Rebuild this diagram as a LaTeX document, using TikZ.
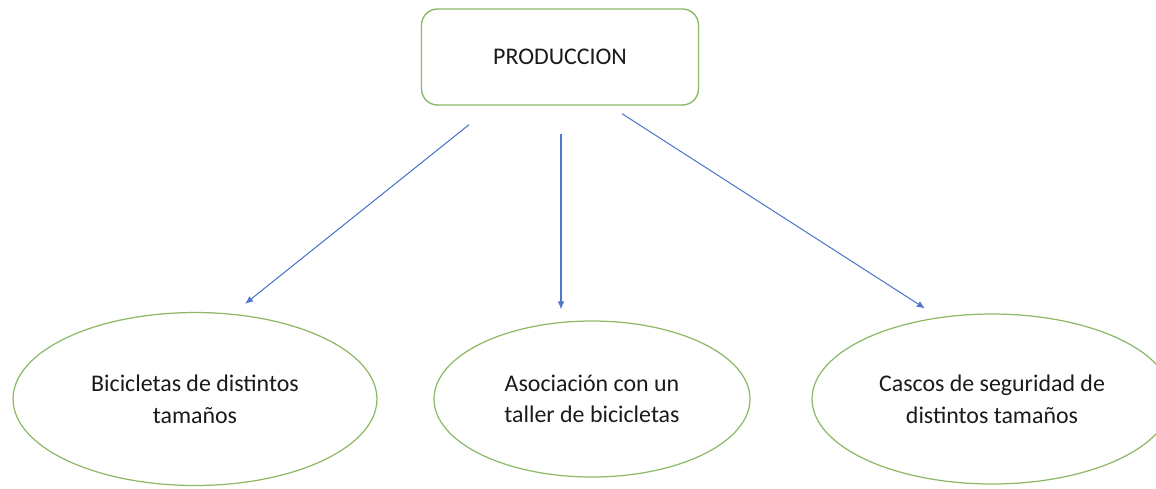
\documentclass[tikz,border=0pt]{standalone}
\usepackage{fontspec}
\setmainfont{Carlito}
\usepackage{tikz}
\usetikzlibrary{shapes}
\usetikzlibrary{shapes.geometric}
\usetikzlibrary{arrows.meta}
\usetikzlibrary{calc}
\definecolor{verde}{HTML}{8DB865}
\definecolor{azul}{HTML}{4F78CC}
\definecolor{texto}{HTML}{1A1A1A}
\begin{document}
\begin{tikzpicture}[x=0.02cm,y=-0.02cm,
    every node/.style={font=\fontsize{13.6}{18}\selectfont,text=texto,align=center},
    caja/.style={draw=verde,line width=0.8pt,rounded corners=0.32cm,minimum width=5.54cm,minimum height=1.92cm},
    elipse/.style={draw=verde,line width=0.7pt,ellipse,inner sep=0pt},
    flecha/.style={draw=azul,line width=0.6pt,-{Latex[length=4.6pt,width=3.8pt]}}]
      \useasboundingbox (0,0) rectangle (1156,488);

      \node[caja] (prod) at (560, 57) {PRODUCCION};

      \node[elipse,minimum width=7.28cm,minimum height=3.46cm] (bici) at (195, 399) {Bicicletas de distintos\\tamaños};
      \node[elipse,minimum width=6.32cm,minimum height=3.12cm] (asoc) at (592, 399) {Asociación con un\\taller de bicicletas};
      \node[elipse,minimum width=7.2cm,minimum height=3.4cm] (cascos) at (992, 399) {Cascos de seguridad de\\distintos tamaños};

      \draw[flecha] ($(prod.south)+(-91,19)$) -- ($(bici.north)+(50,-8)$);
      \draw[flecha] ($(prod.south)+(1,28)$) -- ($(asoc.north)+(-31,-11)$);
      \draw[flecha] ($(prod.south)+(62,8)$) -- ($(cascos.north)+(-67,-5)$);

    \end{tikzpicture}
\end{document}
